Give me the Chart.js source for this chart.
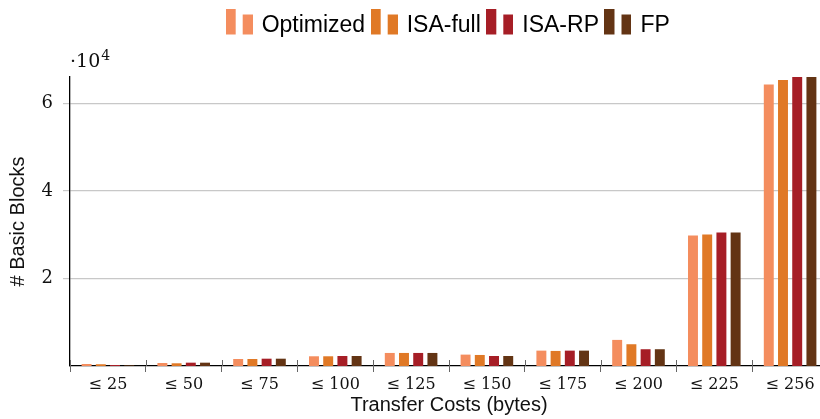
<!DOCTYPE html>
<html>
<head>
<meta charset="utf-8">
<script src="https://cdn.jsdelivr.net/npm/chart.js@4"></script>
<style>
  html, body { margin: 0; padding: 0; background: #fff; overflow: hidden; }
  #wrap { width: 830px; height: 419px; }
</style>
</head>
<body>
<div id="wrap"><canvas id="blocksChart" width="830" height="419"></canvas></div>
<script>
// data
const categories = ['≤ 25', '≤ 50', '≤ 75', '≤ 100', '≤ 125', '≤ 150', '≤ 175', '≤ 200', '≤ 225', '≤ 256'];
const optimized = [460, 690, 1600, 2220, 2980, 2600, 3510, 5960, 29780, 64300];
const isaFull   = [400, 620, 1600, 2220, 2980, 2520, 3440, 4970, 30010, 65300];
const isaRP     = [230, 760, 1670, 2290, 2980, 2290, 3510, 3830, 30470, 66000];
const fp        = [150, 760, 1670, 2290, 2980, 2290, 3510, 3830, 30470, 66000];
const yTickValues = [20000, 40000, 60000];

const colors = {
  optimized: 'rgb(244, 141, 94)',
  isaFull: 'rgb(224, 121, 38)',
  isaRP: 'rgb(166, 30, 38)',
  fp: 'rgb(99, 52, 20)',
};

// pgfplots-style legend glyph: two little bars, bottoms on the text baseline
function barIcon(color) {
  const c = document.createElement('canvas');
  c.width = 27; c.height = 34;
  const g = c.getContext('2d');
  g.fillStyle = color;
  g.fillRect(0, 0, 10, 26);
  g.fillRect(17, 6, 10, 20);
  return c;
}

// push the plot down below the legend
const legendSpacer = {
  id: 'legendSpacer',
  beforeInit(chart) {
    const origFit = chart.legend.fit;
    chart.legend.fit = function () {
      origFit.call(this);
      this.height += 30;
    };
  },
};

// the "·10^4" multiplier above the y axis
const exponentLabel = {
  id: 'exponentLabel',
  afterDraw(chart) {
    const { ctx, chartArea } = chart;
    ctx.save();
    ctx.fillStyle = '#111';
    ctx.textBaseline = 'alphabetic';
    ctx.font = '19px "DejaVu Serif"';
    const x = chartArea.left;
    const y = chartArea.top - 10;
    ctx.fillText('·10', x, y);
    const w = ctx.measureText('·10').width;
    ctx.font = '14px "DejaVu Serif"';
    ctx.fillText('4', x + w + 1, y - 7);
    ctx.restore();
  },
};

// pgfplots ticks poke a little above the x axis too
const xTicksAbove = {
  id: 'xTicksAbove',
  afterDraw(chart) {
    const { ctx, chartArea } = chart;
    const xs = chart.scales.x;
    ctx.save();
    ctx.strokeStyle = '#666';
    ctx.lineWidth = 1;
    for (let i = 0; i <= categories.length; i++) {
      const px = Math.round(xs.getPixelForValue(i - 0.5)) + 0.5;
      ctx.beginPath();
      ctx.moveTo(px, chartArea.bottom);
      ctx.lineTo(px, chartArea.bottom - 6);
      ctx.stroke();
    }
    ctx.restore();
  },
};

const ctx = document.getElementById('blocksChart');
new Chart(ctx, {
  type: 'bar',
  data: {
    labels: categories,
    datasets: [
      { label: 'Optimized', data: optimized, backgroundColor: colors.optimized },
      { label: 'ISA-full', data: isaFull, backgroundColor: colors.isaFull },
      { label: 'ISA-RP', data: isaRP, backgroundColor: colors.isaRP },
      { label: 'FP', data: fp, backgroundColor: colors.fp },
    ],
  },
  options: {
    responsive: false,
    animation: false,
    layout: { padding: { top: 6, right: 2, bottom: 0, left: 0 } },
    datasets: {
      bar: { barPercentage: 0.7, categoryPercentage: 0.75 },
    },
    plugins: {
      tooltip: { enabled: false },
      legend: {
        position: 'top',
        fullSize: false,
        labels: {
          usePointStyle: true,
          pointStyleWidth: 22,
          padding: 8,
          color: '#111',
          font: { family: '"Liberation Sans", Arial, sans-serif', size: 23 },
          generateLabels: (chart) => chart.data.datasets.map((ds, i) => ({
            text: ds.label,
            pointStyle: barIcon(ds.backgroundColor),
            fillStyle: ds.backgroundColor,
            strokeStyle: ds.backgroundColor,
            lineWidth: 0,
            hidden: false,
            datasetIndex: i,
          })),
        },
      },
    },
    scales: {
      x: {
        offset: true,
        grid: {
          offset: true,
          drawOnChartArea: false,
          tickLength: 6,
          color: '#666',
        },
        border: { color: '#000', width: 1.3 },
        ticks: {
          color: '#111',
          maxRotation: 0,
          padding: 3,
          font: { family: '"DejaVu Serif", serif', size: 16 },
        },
        title: {
          display: true,
          text: 'Transfer Costs (bytes)',
          color: '#111',
          padding: { top: 0, bottom: 2 },
          font: { family: '"Liberation Sans", Arial, sans-serif', size: 20 },
        },
        afterFit: (scale) => { scale.height = 53; },
      },
      y: {
        min: 0,
        max: 66000,
        afterBuildTicks: (scale) => {
          scale.ticks = yTickValues.map((v) => ({ value: v }));
        },
        grid: { color: '#c8c8c8', lineWidth: 1.2, tickLength: 7 },
        border: { color: '#000', width: 1.3 },
        ticks: {
          color: '#111',
          padding: 10,
          font: { family: '"DejaVu Serif", serif', size: 18 },
          callback: (v) => v / 10000,
        },
        title: {
          display: true,
          text: '# Basic Blocks',
          color: '#111',
          padding: { top: 6, bottom: 0 },
          font: { family: '"Liberation Sans", Arial, sans-serif', size: 20 },
        },
        afterFit: (scale) => { scale.width = 70; },
      },
    },
  },
  plugins: [legendSpacer, exponentLabel, xTicksAbove],
});
</script>
</body>
</html>
